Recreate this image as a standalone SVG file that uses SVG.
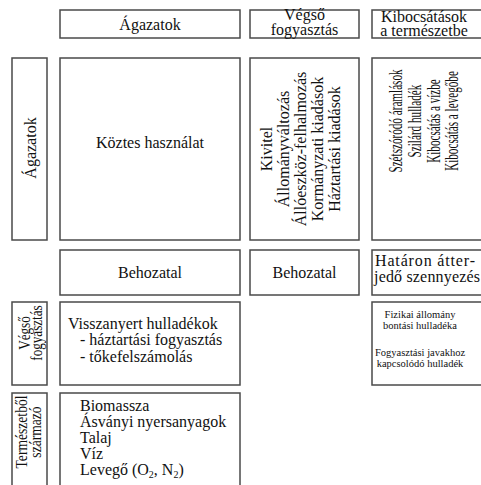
<svg xmlns="http://www.w3.org/2000/svg" width="481" height="485" viewBox="0 0 481 485" font-family="'Liberation Serif', 'Times New Roman', Times, serif">
<style>
.box{fill:none;stroke:#4a4a4a;stroke-width:1.5}
.t{font-family:'Liberation Serif','Times New Roman',Times,serif;font-size:16px;fill:#111111}
.c{text-anchor:middle}
.s{font-size:10.5px}
.r{font-size:18px}
</style>
<rect width="481" height="485" fill="#ffffff"/>
<g id="hdr-agazatok">
<rect class="box" x="60" y="10" width="180" height="28"/>
<text class="t c" x="150" y="30">Ágazatok</text>
</g>
<g id="hdr-vegso">
<rect class="box" x="250" y="10" width="109" height="28"/>
<text class="t c" x="304.5" y="20">Végső</text>
<text class="t c" x="304.5" y="35">fogyasztás</text>
</g>
<g id="hdr-kibocsatas">
<rect class="box" x="372" y="10" width="112" height="28"/>
<text class="t c" x="424" y="22">Kibocsátások</text>
<text class="t c" x="424" y="36">a természetbe</text>
</g>
<g id="lbl-agazatok">
<rect class="box" x="12" y="58" width="35" height="182"/>
<text class="t c" transform="translate(36,148) rotate(-90)">Ágazatok</text>
</g>
<g id="koztes">
<rect class="box" x="60" y="58" width="180" height="182"/>
<text class="t c" x="150" y="148">Köztes használat</text>
</g>
<g id="vegso-felhasznalas">
<rect class="box" x="250" y="58" width="109" height="182"/>
<text class="t c" transform="translate(272,149) rotate(-90)">Kivitel</text>
<text class="t c" transform="translate(289,149) rotate(-90)">Állományváltozás</text>
<text class="t c" transform="translate(306,149) rotate(-90)">Állóeszköz-felhalmozás</text>
<text class="t c" transform="translate(323,149) rotate(-90)">Kormányzati kiadások</text>
<text class="t c" transform="translate(340,149) rotate(-90)">Háztartási kiadások</text>
</g>
<g id="kibocsatasok">
<rect class="box" x="372" y="58" width="112" height="182"/>
<text class="t c r" transform="translate(402,121) rotate(-90) scale(0.62,1)">Szétszóródó áramlások</text>
<text class="t c r" transform="translate(421,121) rotate(-90) scale(0.62,1)">Szilárd hulladék</text>
<text class="t c r" transform="translate(440,121) rotate(-90) scale(0.62,1)">Kibocsátás a vízbe</text>
<text class="t c r" transform="translate(458,121) rotate(-90) scale(0.62,1)">Kibocsátás a levegőbe</text>
</g>
<g id="behozatal-1">
<rect class="box" x="60" y="250" width="180" height="45"/>
<text class="t c" x="150" y="278">Behozatal</text>
</g>
<g id="behozatal-2">
<rect class="box" x="250" y="250" width="109" height="45"/>
<text class="t c" x="304.5" y="278">Behozatal</text>
</g>
<g id="hataron">
<rect class="box" x="372" y="250" width="112" height="45"/>
<text class="t" x="375" y="266" textLength="100" lengthAdjust="spacing">Határon átter-</text>
<text class="t" x="374" y="282" textLength="106" lengthAdjust="spacing">jedő szennyezés</text>
</g>
<g id="lbl-vegso">
<rect class="box" x="12" y="302" width="35" height="83"/>
<text class="t c" font-size="17" transform="translate(30,333) rotate(-90) scale(0.82,1)">Végső</text>
<text class="t c" font-size="17" transform="translate(42,333) rotate(-90) scale(0.82,1)">fogyasztás</text>
</g>
<g id="visszanyert">
<rect class="box" x="60" y="302" width="180" height="83"/>
<text class="t" x="68" y="329">Visszanyert hulladékok</text>
<text class="t" x="80" y="345">- háztartási fogyasztás</text>
<text class="t" x="80" y="362">- tőkefelszámolás</text>
</g>
<g id="hulladek">
<rect class="box" x="372" y="302" width="112" height="83"/>
<text class="t c s" x="420" y="318">Fizikai állomány</text>
<text class="t c s" x="420" y="329">bontási hulladéka</text>
<text class="t c s" x="420" y="356">Fogyasztási javakhoz</text>
<text class="t c s" x="420" y="367">kapcsolódó hulladék</text>
</g>
<g id="lbl-termeszet">
<rect class="box" x="12" y="393" width="35" height="100"/>
<text class="t c" transform="translate(27,432) rotate(-90) scale(0.85,1)">Természetből</text>
<text class="t c" transform="translate(41,432) rotate(-90) scale(0.85,1)">származó</text>
</g>
<g id="termeszet">
<rect class="box" x="60" y="393" width="180" height="100"/>
<text class="t" x="80" y="411">Biomassza</text>
<text class="t" x="80" y="427">Ásványi nyersanyagok</text>
<text class="t" x="80" y="443">Talaj</text>
<text class="t" x="80" y="459">Víz</text>
<text class="t" x="80" y="475">Levegő (O<tspan font-size="10" dy="3">2</tspan><tspan dy="-3">, N</tspan><tspan font-size="10" dy="3">2</tspan><tspan dy="-3">)</tspan></text>
</g>
<g id="connectors"></g>
</svg>
